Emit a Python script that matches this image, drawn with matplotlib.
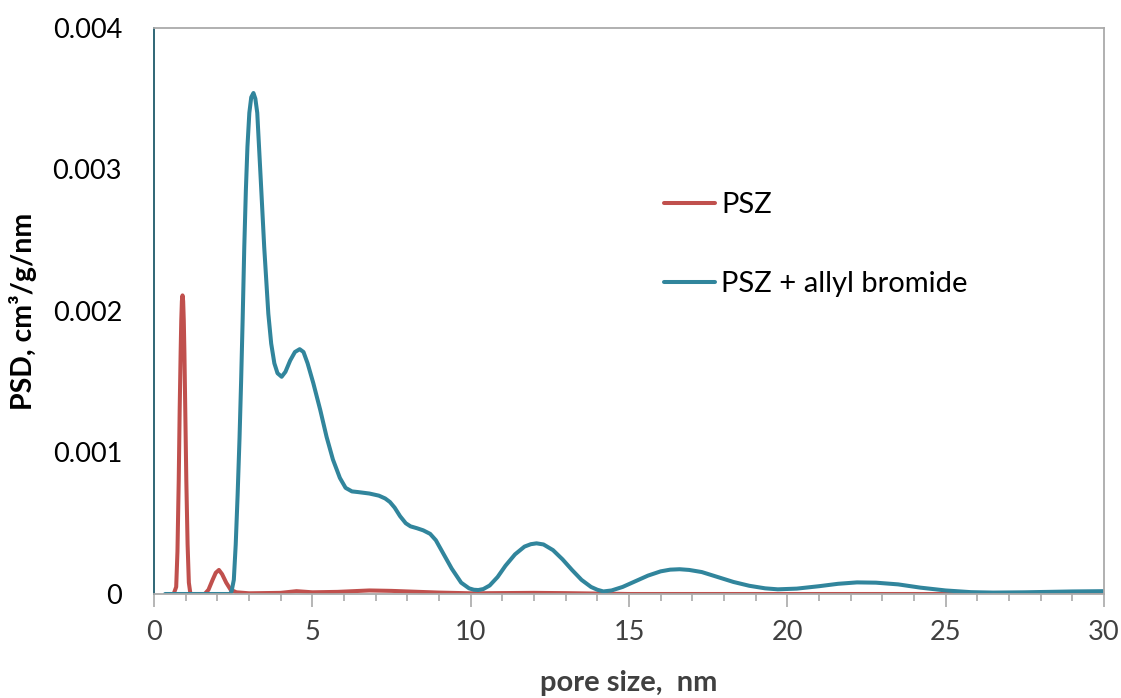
import matplotlib.pyplot as plt
from matplotlib.ticker import MultipleLocator, FixedLocator

plt.rcParams['font.family'] = ['Lato', 'DejaVu Sans']

# pore size (nm) and PSD (cm3/g/nm) for the plain PSZ sample
psz_x = [0.62, 0.7, 0.74, 0.78, 0.81, 0.84, 0.86, 0.88, 0.9, 0.92, 0.94, 0.96, 0.99, 1.02,
         1.06, 1.1, 1.15, 1.6, 1.72, 1.85, 1.95, 2.05, 2.15, 2.28, 2.42, 2.6, 3.0, 4.0,
         4.5, 5.0, 5.8, 6.8, 7.5, 9.0, 10.0, 12.0, 13.0, 15.0, 30.0]
psz_y = [0.0, 0.05, 0.3, 0.8, 1.3, 1.7, 1.93, 2.07, 2.11, 2.07, 1.93, 1.7, 1.25, 0.8,
         0.35, 0.08, 0.0, 0.0, 0.03, 0.1, 0.15, 0.17, 0.14, 0.08, 0.03, 0.012, 0.005, 0.008,
         0.02, 0.012, 0.015, 0.025, 0.022, 0.01, 0.005, 0.008, 0.006, 0.0, 0.0]

# pore size (nm) and PSD (cm3/g/nm) after allyl bromide treatment
allyl_x = [0.35, 1.0, 2.0, 2.4, 2.45, 2.52, 2.58, 2.64, 2.7, 2.75, 2.8, 2.85, 2.9, 2.95,
           3.01, 3.07, 3.14, 3.2, 3.26, 3.37, 3.48, 3.61, 3.7, 3.8, 3.9, 4.03, 4.15, 4.3,
           4.45, 4.6, 4.72, 4.85, 5.03, 5.25, 5.45, 5.65, 5.87, 6.05,
           6.25, 6.45, 6.8, 7.1, 7.3, 7.45, 7.6, 7.77, 7.95, 8.1, 8.3, 8.5, 8.72, 8.9, 9.1,
           9.4, 9.7, 9.95, 10.1, 10.24, 10.4, 10.6, 10.85, 11.1, 11.4, 11.7, 11.9, 12.08,
           12.3, 12.6, 12.9, 13.2, 13.5, 13.8, 14.0, 14.19, 14.45, 14.8, 15.2, 15.6, 16.0,
           16.3, 16.6, 16.9, 17.3, 17.8, 18.3, 18.8, 19.3, 19.7, 20.3, 21.0, 21.6, 22.2,
           22.8, 23.5, 24.2, 25.0, 25.8, 26.5, 27.5, 29.0, 30.0]
allyl_y = [0.0, 0.0, 0.0, 0.0, 0.02, 0.1, 0.35, 0.7, 1.1, 1.5, 1.95, 2.45, 2.85, 3.16,
           3.40, 3.51, 3.54, 3.5, 3.40, 2.93, 2.45, 1.98, 1.77, 1.63, 1.56, 1.535, 1.57, 1.65,
           1.71, 1.73, 1.71, 1.63, 1.49, 1.3, 1.11, 0.95, 0.82, 0.75,
           0.725, 0.72, 0.71, 0.695, 0.675, 0.65, 0.61, 0.55, 0.5, 0.478, 0.465, 0.45, 0.425,
           0.38, 0.3, 0.18, 0.08, 0.04, 0.03, 0.028, 0.035, 0.06, 0.12, 0.2, 0.28, 0.335, 0.352,
           0.358, 0.35, 0.31, 0.245, 0.17, 0.1, 0.05, 0.03, 0.018, 0.025, 0.05, 0.09, 0.13, 0.16,
           0.172, 0.175, 0.17, 0.155, 0.12, 0.085, 0.058, 0.04, 0.033, 0.038, 0.055, 0.072, 0.082,
           0.08, 0.068, 0.045, 0.025, 0.013, 0.01, 0.012, 0.018, 0.02]

fig = plt.figure(figsize=(11.21, 6.98), dpi=100)
ax = fig.add_axes([0.1374, 0.149, 0.8474, 0.811])

ax.plot(psz_x, [v * 1e-3 for v in psz_y], color='#c0504d', lw=2.9,
        solid_capstyle='round', solid_joinstyle='round', label='PSZ')
ax.plot(allyl_x, [v * 1e-3 for v in allyl_y], color='#31859c', lw=2.9,
        solid_capstyle='round', solid_joinstyle='round', label='PSZ + allyl bromide')

ax.set_xlim(0, 30)
ax.set_ylim(0, 0.004)
ax.xaxis.set_major_locator(MultipleLocator(5))
ax.xaxis.set_minor_locator(MultipleLocator(1))
ax.yaxis.set_major_locator(FixedLocator([0, 0.001, 0.002, 0.003, 0.004]))
ax.set_yticklabels(['0', '0.001', '0.002', '0.003', '0.004'])

ax.tick_params(axis='x', which='major', length=9, width=1.3, color='#b0b0b0',
               labelsize=19.5, labelcolor='#404040', pad=10, direction='out')
ax.tick_params(axis='x', which='minor', length=5, width=1.3, color='#b0b0b0')
ax.tick_params(axis='y', length=0, labelsize=19.5, labelcolor='black', pad=23)

for side in ['top', 'right', 'bottom']:
    ax.spines[side].set_color('#aaaaaa')
    ax.spines[side].set_linewidth(1.3)
ax.spines['left'].set_color('#1f5a6b')
ax.spines['left'].set_linewidth(1.3)

ax.set_xlabel('pore size,  nm', fontsize=21, fontweight='bold', color='#404040', labelpad=18)
ax.set_ylabel('PSD, cm³/g/nm', fontsize=20.5, fontweight='bold', color='black', labelpad=11)

ax.legend(loc='upper left', bbox_to_anchor=(0.569, 0.762), bbox_transform=fig.transFigure,
          frameon=False, fontsize=21, handlelength=1.75, handletextpad=0.2,
          labelspacing=1.82)

fig.savefig('out.png', dpi=100)
